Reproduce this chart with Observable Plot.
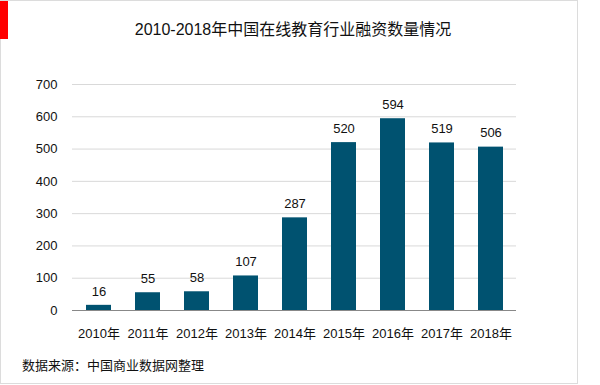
<!DOCTYPE html>
<html><head><meta charset="utf-8">
<script src="https://cdn.jsdelivr.net/npm/d3@7"></script>
<script src="https://cdn.jsdelivr.net/npm/@observablehq/plot@0.6"></script>
<style>
body{margin:0;background:#fff;font-family:"Liberation Sans","Noto Sans CJK SC",sans-serif;}
#wrap{position:relative;width:600px;height:385px;overflow:hidden;}
#frame{position:absolute;left:0;top:0;width:576px;height:382px;border:1px solid #dcdcdc;}
#red{position:absolute;left:0;top:1px;width:8px;height:38px;background:#ff0000;}
#title{position:absolute;left:0;top:16px;width:586px;text-align:center;font-size:16px;color:#111;}
#chart{position:absolute;left:0;top:50px;}
#caption{position:absolute;left:22px;top:355px;font-size:13px;color:#111;}
</style></head>
<body><div id="wrap"><div id="frame"></div><div id="red"></div>
<div id="title">2010-2018年中国在线教育行业融资数量情况</div>
<div id="chart"></div>
<div id="caption">数据来源：中国商业数据网整理</div></div>
<script>
const years = ["2010年","2011年","2012年","2013年","2014年","2015年","2016年","2017年","2018年"];
const counts = [16,55,58,107,287,520,594,519,506];
const yTicks = [0,100,200,300,400,500,600,700];
const data = years.map((y,i)=>({year:y,count:counts[i]}));
const chart = Plot.plot({
  width:600, height:300,
  marginTop:34, marginBottom:40, marginLeft:72, marginRight:84,
  style:{fontFamily:'"Liberation Sans","Noto Sans CJK SC",sans-serif',fontSize:"13px",color:"#111",background:"transparent"},
  x:{domain:years, paddingInner:0.5, paddingOuter:0.25, label:null, tickSize:0, tickPadding:18},
  y:{domain:[0,700], ticks:yTicks, label:null, tickSize:0, tickPadding:15},
  marks:[
    Plot.gridY(yTicks,{stroke:"#d9d9d9",strokeOpacity:1}),
    Plot.barY(data,{x:"year",y:"count",fill:"#005270"}),
    Plot.ruleY([0],{stroke:"#888",strokeWidth:1}),
    Plot.text(data,{x:"year",y:"count",text:d=>String(d.count),dy:-14,fontSize:13,fill:"#111"})
  ]
});
document.getElementById("chart").appendChild(chart);
</script></body></html>
